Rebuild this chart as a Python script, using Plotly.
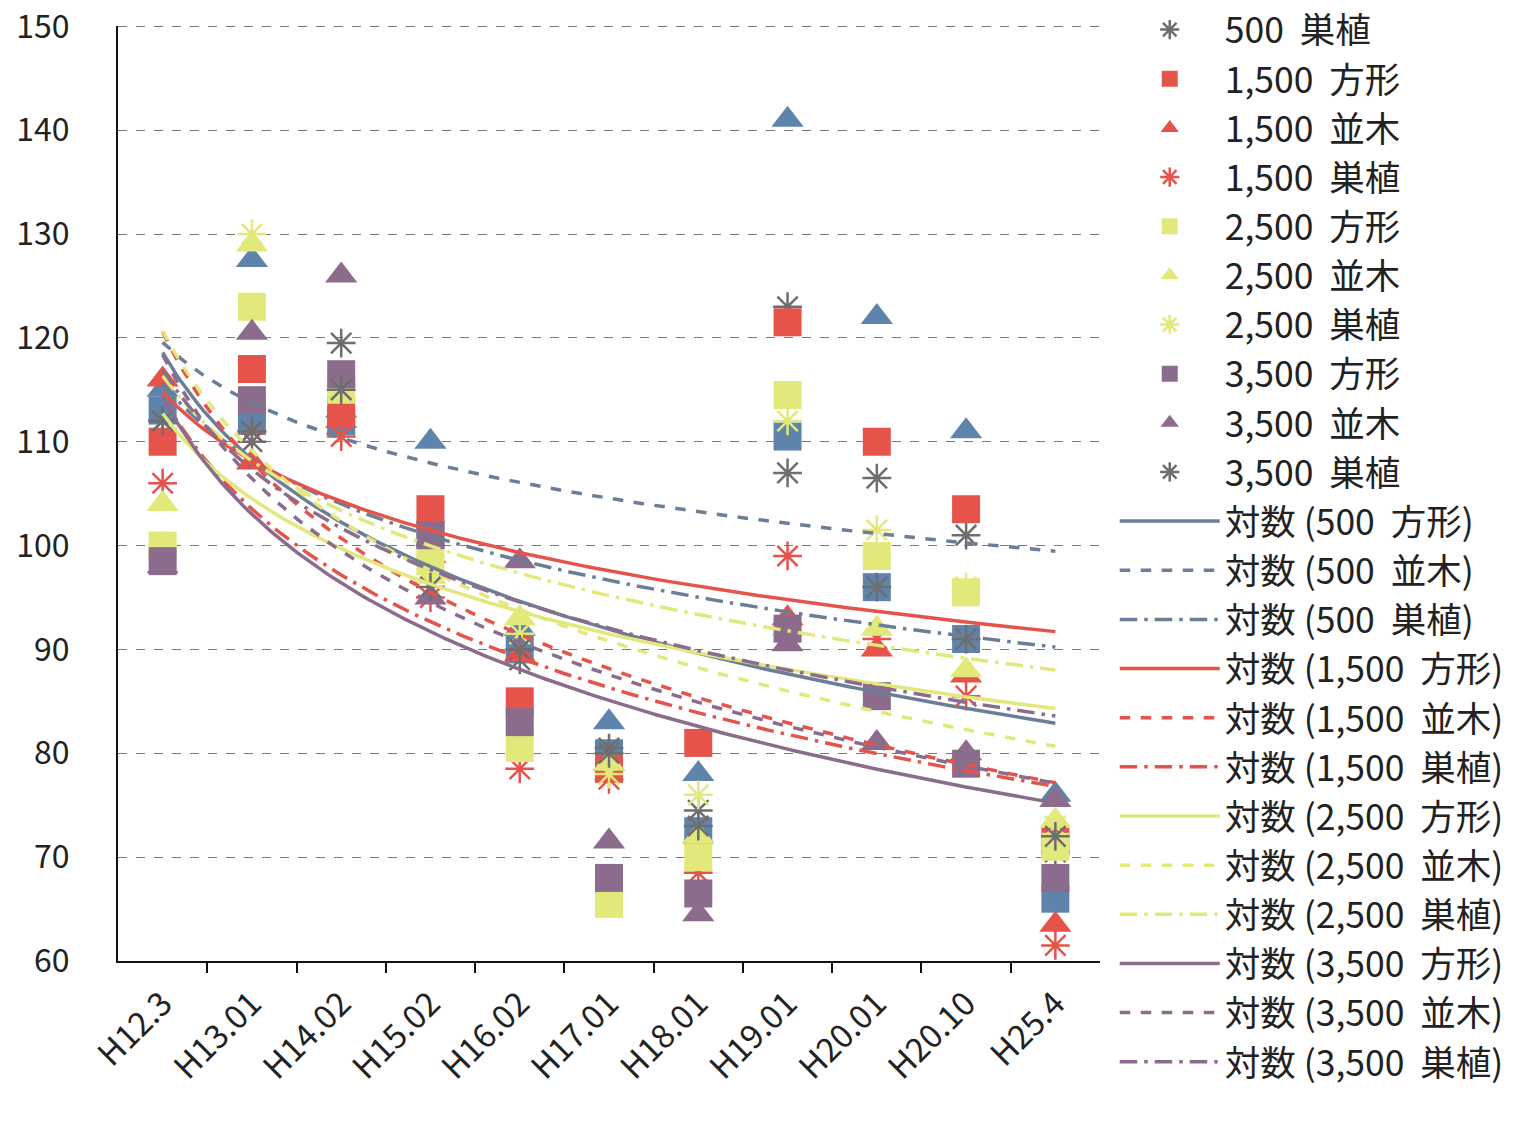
import numpy as np
import plotly.graph_objects as go

categories = ["H12.3", "H13.01", "H14.02", "H15.02", "H16.02", "H17.01",
              "H18.01", "H19.01", "H20.01", "H20.10", "H25.4"]

s500_hoke   = [113, 112, 112, 101, 90, 80, 72.5, 110.5, 96, 91, 66]
s500_namiki = [115, 127.5, 113, 110, 92, 83, 78, 141, 122, 111, 76]
s500_sou    = [112, 110, 119.5, 100, 89, 80.5, 74.5, 123, 106.5, 101, 70.5]
s1500_hoke   = [110, 117, 113, 103.5, 85, 78.5, 81, 121.5, 110, 103.5, 71.5]
s1500_namiki = [116, 108, 112, 99, 89.5, 79, 72, 93, 90, 87.5, 63.5]
s1500_sou    = [106, 111, 110.5, 95, 78.5, 77.5, 68.5, 99, 91, 85.5, 61.5]
s2500_hoke   = [100, 123, 115, 98.5, 80.5, 65.5, 70, 114.5, 99, 95.5, 71]
s2500_namiki = [104, 129, 116, 97, 93, 79, 72, 92, 92, 88, 73.5]
s2500_sou    = [100, 130, 116, 99, 91.5, 78, 76, 112, 101.5, 96, 73]
s3500_hoke   = [98.5, 114, 116.5, 101, 83, 68, 66.5, 92, 85.5, 79, 68]
s3500_namiki = [98, 120.5, 126, 95, 98.5, 71.5, 64.5, 90.5, 81, 80, 75.5]
s3500_sou    = [112, 111, 115, 96, 90, 80, 73, 107, 96, 91, 72]

BLUE = "#5f84ab"
BLUE_LINE = "#6b7e98"
GRAY = "#6e6e6e"
RED = "#e5534b"
YEL = "#e2e87a"
PUR = "#8c6c8c"

# name, data, color, symbol, show in legend
scatter_defs = [
    ("500  方形", s500_hoke, BLUE, "square", False),
    ("500  並木", s500_namiki, BLUE, "triangle-up", False),
    ("500  巣植", s500_sou, GRAY, "asterisk-open", True),
    ("1,500  方形", s1500_hoke, RED, "square", True),
    ("1,500  並木", s1500_namiki, RED, "triangle-up", True),
    ("1,500  巣植", s1500_sou, RED, "asterisk-open", True),
    ("2,500  方形", s2500_hoke, YEL, "square", True),
    ("2,500  並木", s2500_namiki, YEL, "triangle-up", True),
    ("2,500  巣植", s2500_sou, YEL, "asterisk-open", True),
    ("3,500  方形", s3500_hoke, PUR, "square", True),
    ("3,500  並木", s3500_namiki, PUR, "triangle-up", True),
    ("3,500  巣植", s3500_sou, GRAY, "asterisk-open", True),
]

trend_defs = [
    ("対数 (500  方形)", s500_hoke, BLUE_LINE, "solid"),
    ("対数 (500  並木)", s500_namiki, BLUE_LINE, "dash"),
    ("対数 (500  巣植)", s500_sou, BLUE_LINE, "longdashdot"),
    ("対数 (1,500  方形)", s1500_hoke, RED, "solid"),
    ("対数 (1,500  並木)", s1500_namiki, RED, "dash"),
    ("対数 (1,500  巣植)", s1500_sou, RED, "longdashdot"),
    ("対数 (2,500  方形)", s2500_hoke, YEL, "solid"),
    ("対数 (2,500  並木)", s2500_namiki, YEL, "dash"),
    ("対数 (2,500  巣植)", s2500_sou, YEL, "longdashdot"),
    ("対数 (3,500  方形)", s3500_hoke, PUR, "solid"),
    ("対数 (3,500  並木)", s3500_namiki, PUR, "dash"),
    ("対数 (3,500  巣植)", s3500_sou, PUR, "longdashdot"),
]

xpos = np.arange(1, len(categories) + 1)

fig = go.Figure()
for name, data, color, sym, show in scatter_defs:
    is_star = sym.startswith("asterisk")
    fig.add_trace(go.Scatter(
        x=xpos, y=data, mode="markers", name=name, showlegend=show,
        marker=dict(symbol=sym, size=24 if is_star else 28, color=color,
                    line=dict(color=color, width=2.5 if is_star else 0)),
    ))

# logarithmic trendlines (least-squares fit on ln(x)), like Excel's 対数 trendline
xs = np.linspace(1, len(categories), 200)
for name, data, color, dash in trend_defs:
    a, b = np.polyfit(np.log(xpos), np.array(data, dtype=float), 1)
    fig.add_trace(go.Scatter(
        x=xs, y=a * np.log(xs) + b, mode="lines", name=name,
        line=dict(color=color, width=3.5, dash=dash),
    ))

font_family = "Noto Sans CJK JP, Noto Sans, sans-serif"
H, B, T = 1122, 161, 26
fig.update_layout(
    width=1530, height=H,
    margin=dict(l=118, r=430, t=0, b=B),
    paper_bgcolor="white", plot_bgcolor="white",
    font=dict(family=font_family, size=30, color="#222"),
    legend=dict(x=1.015, y=1.0, xanchor="left", yanchor="top",
                font=dict(size=35.5, color="#222"), itemwidth=100,
                maxheight=1120, tracegroupgap=0, bgcolor="rgba(0,0,0,0)"),
    xaxis=dict(range=[0.5, len(categories) + 0.5],
               tickvals=list(xpos), ticktext=categories, tickangle=-45,
               showgrid=False, showline=True, linecolor="#111", linewidth=2,
               ticks="", zeroline=False, ticklabelstandoff=8, automargin=False,
               tickfont=dict(size=33, family=font_family)),
    yaxis=dict(range=[60, 150.03], dtick=10, tick0=60,
               domain=[0, (H - B - T) / (H - B)],
               showgrid=True, gridcolor="#7a7a7a", griddash="dash", gridwidth=1.2,
               showline=True, linecolor="#111", linewidth=2,
               ticks="", zeroline=False, ticklabelstandoff=40,
               ticklabeloverflow="allow", automargin=False,
               tickfont=dict(size=32, family=font_family)),
)

# top gridline at 150 (edge of plot area)
fig.add_shape(type="line", xref="x domain", yref="y", x0=0, x1=1, y0=150, y1=150,
              line=dict(color="#7a7a7a", width=1.2, dash="dash"), layer="below")

# tick marks between categories on the x axis
fig.update_xaxes(minor=dict(tickvals=list(np.arange(1.5, len(categories), 1.0)),
                            ticks="outside", ticklen=10, tickcolor="#111", tickwidth=2))

fig.write_html("out.html")
